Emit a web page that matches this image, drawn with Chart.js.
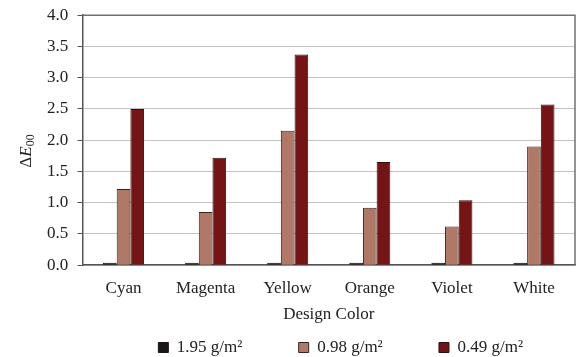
<!DOCTYPE html>
<html>
<head>
<meta charset="utf-8">
<script src="https://cdn.jsdelivr.net/npm/chart.js@4/dist/chart.umd.min.js"></script>
<style>
  body { margin: 0; background: #fff; }
  #wrap { width: 576px; height: 357px; }
</style>
</head>
<body>
<div id="wrap"><canvas id="chartDelta" width="576" height="357"></canvas></div>
<script>
// categorias e valores
const colors = ['Cyan', 'Magenta', 'Yellow', 'Orange', 'Violet', 'White'];
const series = ['1.95 g/m²', '0.98 g/m²', '0.49 g/m²'];
const dense = [0.04, 0.04, 0.04, 0.04, 0.04, 0.04];
const medium = [1.22, 0.85, 2.15, 0.92, 0.62, 1.90];
const light = [2.50, 1.72, 3.37, 1.65, 1.04, 2.57];

const fontFamily = '"Liberation Serif", serif';
const fontSize = 17;

// moldura de cima e da direita + titulo do eixo y (ΔE00)
const framePlugin = {
  id: 'frame',
  afterDraw(chart) {
    const { ctx, chartArea } = chart;
    ctx.save();
    ctx.strokeStyle = '#707070';
    ctx.lineWidth = 1.5;
    ctx.beginPath();
    ctx.moveTo(chartArea.left, chartArea.top);
    ctx.lineTo(chartArea.right, chartArea.top);
    ctx.lineTo(chartArea.right, chartArea.bottom);
    ctx.stroke();

    // titulo do eixo y
    ctx.translate(31, 151);
    ctx.rotate(-Math.PI / 2);
    ctx.fillStyle = '#222';
    ctx.textBaseline = 'alphabetic';
    ctx.font = fontSize + 'px ' + fontFamily;
    const w1 = ctx.measureText('Δ').width;
    ctx.font = 'italic ' + fontSize + 'px ' + fontFamily;
    const w2 = ctx.measureText('E').width;
    ctx.font = '12px ' + fontFamily;
    const w3 = ctx.measureText('00').width;
    let x = -(w1 + w2 + w3) / 2;
    ctx.font = fontSize + 'px ' + fontFamily;
    ctx.fillText('Δ', x, 0);
    x += w1;
    ctx.font = 'italic ' + fontSize + 'px ' + fontFamily;
    ctx.fillText('E', x, 0);
    x += w2;
    ctx.font = '12px ' + fontFamily;
    ctx.fillText('00', x, 3);
    ctx.restore();
  }
};

const ctx = document.getElementById('chartDelta');
const chartDelta = new Chart(ctx, {
  type: 'bar',
  data: {
    labels: colors,
    datasets: [{
      label: series[0],
      data: dense,
      backgroundColor: '#1c1717',
      borderColor: '#1c1717',
      borderWidth: 1,
    }, {
      label: series[1],
      data: medium,
      backgroundColor: '#b07866',
      borderColor: '#3a2420',
      borderWidth: 1,
    }, {
      label: series[2],
      data: light,
      backgroundColor: '#741414',
      borderColor: '#2e1010',
      borderWidth: 1,
    }]
  },
  options: {
    responsive: false,
    animation: false,
    layout: {
      padding: { left: 42, right: 1, top: 0, bottom: -9 }
    },
    datasets: {
      bar: {
        categoryPercentage: 0.5,
        barPercentage: 1,
      }
    },
    scales: {
      y: {
        min: 0,
        max: 4,
        ticks: {
          stepSize: 0.5,
          color: '#222',
          padding: 5,
          font: { family: fontFamily, size: fontSize },
          // espaço no fim do rótulo para afastar do eixo
          callback: (v) => v.toFixed(1) + '\u2005',
        },
        grid: {
          color: '#c4c4c4',
          tickLength: 5,
          tickColor: '#555',
        },
        border: { color: '#555', width: 1.5 },
      },
      x: {
        ticks: {
          color: '#222',
          padding: 5,
          font: { family: fontFamily, size: fontSize },
        },
        grid: { display: false },
        border: { color: '#555', width: 1.5 },
        title: {
          display: true,
          text: 'Design Color',
          color: '#222',
          padding: { top: 1, bottom: 13 },
          font: { family: fontFamily, size: fontSize },
        }
      }
    },
    plugins: {
      legend: {
        position: 'bottom',
        align: 'end',
        fullSize: false,
        labels: {
          boxWidth: 10,
          boxHeight: 10,
          padding: 1,
          color: '#222',
          font: { family: fontFamily, size: fontSize },
          // espaço extra entre os itens da legenda
          generateLabels(chart) {
            const items = Chart.defaults.plugins.legend.labels.generateLabels(chart);
            items.forEach((item, i) => {
              item.lineWidth = 1;
              const gap = i < items.length - 1 ? '\u2002\u2002\u2002\u2002\u2002\u2002 ' : '\u2002\u2002\u2002\u2002\u2002\u2002';
              item.text = item.text + gap;
            });
            return items;
          }
        }
      },
      tooltip: { enabled: false },
    }
  },
  plugins: [framePlugin]
});
</script>
</body>
</html>
